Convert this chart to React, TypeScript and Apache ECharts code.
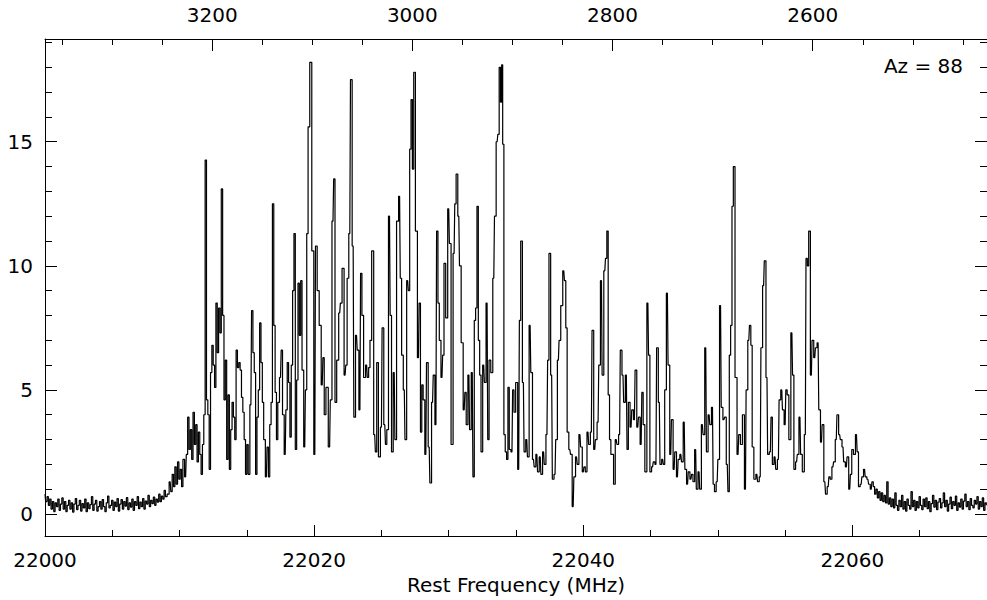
import React, { useEffect, useRef } from "react";
import * as echarts from "echarts";

// ---------- data ----------
// Left line-free wing: channels every 0.1 MHz starting at 22000 MHz
const leftWingStartMHz = 22000;
const wingStepMHz = 0.1;
const leftWing = [
  0.8, 0.5, 0.7, 0.35, 0.6, 0.2, 0.5, 0.1, 0.45, 0.3, 0.6, 0.15, 0.4, 0.65, 0.2, 0.5,
  0.1, 0.35, 0.55, 0.2, 0.45, 0.08, 0.4, 0.62, 0.18, 0.35, 0.55, 0.12, 0.42, 0.25,
  0.6, 0.1, 0.45, 0.22, 0.38, 0.7, 0.15, 0.4, 0.55, 0.12, 0.3, 0.5, 0.2, 0.58, 0.3,
  0.1, 0.45, 0.72, 0.25, 0.35, 0.55, 0.15, 0.48, 0.3, 0.62, 0.12, 0.4, 0.58, 0.2, 0.5,
  0.32, 0.66, 0.18, 0.45, 0.28, 0.6, 0.15, 0.5, 0.35, 0.7, 0.22, 0.48, 0.3, 0.62, 0.2,
  0.52, 0.4, 0.75, 0.3, 0.55, 0.42, 0.68, 0.35, 0.6, 0.48, 0.8, 0.5, 0.72, 0.6, 0.95, 0.7,
];

// Band of emission lines: frequency (MHz) and intensity
const coreFreq = [
  22009.15, 22009.3, 22009.4, 22009.5, 22009.6, 22009.7, 22009.8, 22009.9, 22010.0, 22010.1,
  22010.2, 22010.3, 22010.45, 22010.55, 22010.65, 22010.75, 22010.85, 22010.95, 22011.05, 22011.15,
  22011.25, 22011.35, 22011.45, 22011.55, 22011.65, 22011.75, 22011.85, 22011.95, 22012.05, 22012.15,
  22012.25, 22012.35, 22012.45, 22012.55, 22012.65, 22012.75, 22012.85, 22012.95, 22013.05, 22013.15,
  22013.25, 22013.35, 22013.45, 22013.55, 22013.65, 22013.75, 22013.85, 22013.95, 22014.05, 22014.15,
  22014.25, 22014.35, 22014.45, 22014.55, 22014.65, 22014.75, 22014.85, 22014.95, 22015.05, 22015.15,
  22015.3, 22015.4, 22015.5, 22015.6, 22015.7, 22015.8, 22015.9, 22016.0, 22016.1, 22016.2,
  22016.3, 22016.45, 22016.55, 22016.65, 22016.75, 22016.85, 22016.95, 22017.05, 22017.15, 22017.25,
  22017.35, 22017.5, 22017.6, 22017.7, 22017.85, 22017.95, 22018.05, 22018.15, 22018.25, 22018.35,
  22018.45, 22018.55, 22018.65, 22018.75, 22018.85, 22018.95, 22019.05, 22019.15, 22019.3, 22019.4,
  22019.5, 22019.6, 22019.75, 22019.9, 22020.05, 22020.15, 22020.3, 22020.45, 22020.6, 22020.7,
  22020.8, 22020.95, 22021.15, 22021.25, 22021.4, 22021.5, 22021.6, 22021.75, 22021.9, 22022.0,
  22022.15, 22022.3, 22022.4, 22022.5, 22022.65, 22022.75, 22022.9, 22023.0, 22023.15, 22023.25,
  22023.4, 22023.5, 22023.6, 22023.75, 22023.9, 22024.0, 22024.1, 22024.2, 22024.35, 22024.5,
  22024.6, 22024.7, 22024.85, 22025.0, 22025.1, 22025.25, 22025.35, 22025.45, 22025.6, 22025.7,
  22025.8, 22025.95, 22026.05, 22026.2, 22026.35, 22026.45, 22026.55, 22026.7, 22026.8, 22026.95,
  22027.05, 22027.15, 22027.25, 22027.35, 22027.45, 22027.6, 22027.75, 22027.85, 22027.95, 22028.05,
  22028.15, 22028.3, 22028.4, 22028.55, 22028.65, 22028.8, 22028.9, 22029.05, 22029.15, 22029.25,
  22029.35, 22029.5, 22029.6, 22029.7, 22029.85, 22030.0, 22030.1, 22030.25, 22030.4, 22030.5,
  22030.6, 22030.75, 22030.85, 22031.0, 22031.15, 22031.25, 22031.35, 22031.5, 22031.6, 22031.75,
  22031.85, 22031.95, 22032.05, 22032.15, 22032.25, 22032.35, 22032.45, 22032.6, 22032.7, 22032.85,
  22032.95, 22033.05, 22033.2, 22033.35, 22033.45, 22033.6, 22033.7, 22033.8, 22033.9, 22033.97,
  22034.05, 22034.15, 22034.25, 22034.35, 22034.45, 22034.55, 22034.7, 22034.8, 22034.9, 22035.05,
  22035.2, 22035.3, 22035.4, 22035.55, 22035.65, 22035.8, 22035.9, 22036.05, 22036.15, 22036.3,
  22036.4, 22036.55, 22036.65, 22036.8, 22036.9, 22037.05, 22037.15, 22037.3, 22037.4, 22037.5,
  22037.65, 22037.75, 22037.9, 22038.0, 22038.15, 22038.25, 22038.4, 22038.55, 22038.65, 22038.75,
  22038.85, 22039.0, 22039.1, 22039.25, 22039.35, 22039.5, 22039.6, 22039.75, 22039.85, 22040.0,
  22040.1, 22040.2, 22040.35, 22040.45, 22040.6, 22040.7, 22040.85, 22040.95, 22041.1, 22041.2,
  22041.35, 22041.45, 22041.6, 22041.7, 22041.8, 22041.9, 22042.0, 22042.1, 22042.2, 22042.3,
  22042.45, 22042.55, 22042.7, 22042.8, 22042.95, 22043.05, 22043.2, 22043.3, 22043.4, 22043.55,
  22043.65, 22043.8, 22043.9, 22044.05, 22044.15, 22044.3, 22044.4, 22044.5, 22044.65, 22044.8,
  22044.9, 22045.0, 22045.15, 22045.25, 22045.4, 22045.5, 22045.65, 22045.75, 22045.9, 22046.0,
  22046.1, 22046.25, 22046.35, 22046.5, 22046.6, 22046.75, 22046.85, 22047.0, 22047.1, 22047.25,
  22047.35, 22047.5, 22047.6, 22047.75, 22047.85, 22048.0, 22048.1, 22048.2, 22048.35, 22048.45,
  22048.6, 22048.7, 22048.85, 22048.95, 22049.1, 22049.2, 22049.35, 22049.45, 22049.6, 22049.7,
  22049.8, 22049.95, 22050.05, 22050.2, 22050.3, 22050.45, 22050.55, 22050.7, 22050.8, 22050.9,
  22051.0, 22051.1, 22051.2, 22051.35, 22051.5, 22051.6, 22051.75, 22051.9, 22052.05, 22052.15,
  22052.3, 22052.4, 22052.5, 22052.6, 22052.75, 22052.9, 22053.0, 22053.15, 22053.25, 22053.4,
  22053.5, 22053.65, 22053.75, 22053.9, 22054.0, 22054.1, 22054.25, 22054.35, 22054.5, 22054.6,
  22054.75, 22054.85, 22055.0, 22055.1, 22055.2, 22055.35, 22055.5, 22055.6, 22055.7, 22055.85,
  22055.95, 22056.1, 22056.2, 22056.35, 22056.5, 22056.6, 22056.7, 22056.8, 22056.95, 22057.05,
  22057.2, 22057.3, 22057.45, 22057.55, 22057.7, 22057.8, 22057.95, 22058.05, 22058.2, 22058.3,
  22058.4, 22058.55, 22058.65, 22058.8, 22058.9, 22059.05, 22059.15, 22059.3, 22059.4, 22059.55,
  22059.65, 22059.8, 22059.9, 22060.0, 22060.15, 22060.3, 22060.4, 22060.5, 22060.65, 22060.75,
  22060.9, 22061.0, 22061.15, 22061.25, 22061.4, 22061.5,
];
const coreInt = [
  0.8, 1.3, 0.9, 1.6, 1.1, 1.9, 1.2, 2.1, 1.4, 1.8,
  1.1, 2.2, 1.5, 2.4, 3.9, 2.6, 3.4, 2.2, 4.1, 2.8,
  3.6, 2.1, 3.3, 2.4, 1.6, 2.8, 4.0, 14.26, 4.6, 4.0,
  1.8, 5.7, 6.8, 6.0, 5.1, 8.5, 6.5, 8.3, 7.3, 13.1,
  8.0, 4.6, 6.2, 2.2, 4.8, 1.8, 3.4, 4.5, 3.9, 3.0,
  6.6, 5.9, 6.1, 5.8, 4.7, 4.1, 3.0, 1.6, 2.8, 1.6,
  4.4, 8.2, 6.5, 5.7, 1.6, 3.9, 5.0, 7.7, 6.1, 4.5,
  3.0, 1.5, 2.7, 1.5, 3.6, 4.5, 12.5, 7.6, 4.9, 3.0,
  4.5, 5.5, 6.6, 4.0, 2.4, 4.2, 6.1, 5.3, 3.1, 6.0,
  9.0, 11.3, 2.6, 5.4, 9.3, 7.2, 9.4, 5.8, 2.7, 5.0,
  11.3, 15.6, 18.2, 10.6, 2.4, 10.8, 9.0, 7.6, 5.2, 6.3,
  4.0, 5.1, 2.7, 4.6, 11.8, 13.5, 4.5, 6.2, 8.1, 8.5,
  9.9, 5.6, 6.0, 9.5, 11.3, 17.5, 10.8, 3.9, 7.2, 6.6,
  4.2, 9.7, 8.0, 5.5, 6.0, 5.5, 5.9, 7.0, 10.6, 3.2,
  2.5, 6.1, 2.3, 3.5, 7.5, 3.6, 2.8, 3.4, 12.0, 8.0,
  2.5, 5.7, 3.0, 11.8, 12.8, 9.5, 6.4, 5.0, 3.0, 9.4,
  9.0, 14.7, 16.7, 13.9, 17.8, 11.4, 6.3, 8.5, 3.3, 5.2,
  4.6, 2.4, 6.1, 2.7, 1.25, 4.5, 5.6, 3.6, 11.4, 8.5,
  7.0, 5.5, 6.4, 10.1, 7.9, 12.3, 10.9, 2.8, 10.5, 12.5,
  13.7, 12.0, 10.0, 6.9, 4.2, 4.9, 3.6, 5.6, 3.4, 5.7,
  1.5, 7.8, 8.3, 12.4, 7.0, 5.6, 2.5, 6.0, 5.3, 8.5,
  3.0, 6.2, 5.7, 9.5, 12.0, 15.0, 15.3, 18.0, 16.6, 18.1,
  14.9, 3.2, 2.5, 2.2, 5.1, 2.6, 2.5, 5.0, 4.1, 5.3,
  1.8, 7.8, 11.0, 5.3, 2.5, 3.0, 2.3, 7.6, 5.7, 2.2,
  1.9, 2.4, 1.7, 2.3, 1.6, 2.5, 2.0, 3.2, 6.2, 10.5,
  5.6, 1.4, 1.6, 3.0, 6.2, 7.0, 8.4, 9.8, 9.4, 7.5,
  3.3, 2.6, 2.4, 0.3, 1.5, 2.3, 2.0, 3.2, 2.7, 1.7,
  1.9, 1.7, 3.3, 2.8, 3.3, 7.4, 2.6, 3.0, 3.7, 6.0,
  9.4, 5.6, 9.8, 10.3, 11.4, 4.8, 3.0, 2.4, 2.4, 1.2,
  3.0, 2.8, 3.2, 6.6, 5.6, 4.5, 5.6, 2.6, 4.5, 3.5,
  4.2, 3.8, 5.8, 3.5, 3.9, 2.8, 4.9, 3.6, 1.7, 8.5,
  6.4, 1.7, 1.9, 2.1, 2.0, 6.7, 4.5, 2.0, 2.2, 2.0,
  5.0, 8.9, 6.0, 2.4, 3.8, 1.8, 2.5, 1.5, 2.2, 2.4,
  2.1, 3.7, 1.8, 1.2, 1.7, 1.4, 1.6, 1.3, 2.6, 1.0,
  1.7, 1.0, 3.6, 3.2, 6.7, 2.5, 4.0, 3.6, 4.3, 1.2,
  0.9, 1.3, 2.2, 8.4, 4.3, 3.8, 3.9, 2.0, 0.9, 6.4,
  7.6, 12.4, 14.0, 5.5, 2.4, 3.2, 2.8, 4.0, 1.0, 5.0,
  7.0, 7.6, 6.8, 2.7, 1.4, 1.6, 1.3, 1.5, 6.7, 9.2,
  10.2, 5.5, 2.4, 2.5, 3.9, 2.0, 2.3, 1.8, 2.2, 4.6,
  5.0, 4.2, 3.6, 5.0, 4.8, 3.0, 7.3, 5.6, 1.8, 2.1,
  2.4, 3.9, 2.4, 1.7, 3.2, 10.3, 10.0, 11.4, 5.6, 7.0,
  6.3, 6.7, 6.9, 4.2, 2.9, 3.6, 1.3, 0.8, 1.1, 1.5,
  1.4, 1.9, 2.1, 3.0, 4.0, 3.2, 3.0, 2.7, 2.1, 1.9,
  2.3, 1.0, 1.6, 2.6, 2.4, 3.2, 2.5, 1.1, 1.2, 1.5,
  1.8, 1.5, 1.4, 1.2, 1.0, 1.3,
];

// Right line-free wing: channels every 0.1 MHz starting at 22061.6 MHz
const rightWingStartMHz = 22061.6;
const rightWing = [
  1.1, 0.8, 1.0, 0.65, 0.9, 0.55, 0.85, 0.5, 0.75, 0.45, 1.3, 0.4, 0.65, 0.3, 0.6, 0.25,
  0.85, 0.35, 0.15, 0.55, 0.3, 0.75, 0.2, 0.5, 0.12, 0.6, 0.35, 0.2, 0.9, 0.3,
  0.55, 0.15, 0.5, 0.25, 0.7, 0.35, 0.18, 0.6, 0.3, 0.65, 0.22, 0.5, 0.1, 0.42, 0.75,
  0.28, 0.55, 0.18, 0.48, 0.62, 0.25, 0.45, 0.85, 0.3, 0.55, 0.12, 0.4, 0.68, 0.22, 0.5,
  0.35, 0.72, 0.15, 0.45, 0.28, 0.6, 0.2, 0.52, 0.8, 0.3, 0.5, 0.18, 0.62, 0.35, 0.25,
  0.55, 0.4, 0.7, 0.2, 0.5, 0.3, 0.65, 0.15, 0.45, 0.35,
];

// Axis ticks
const freqMajorTicks = [22000, 22020, 22040, 22060];
const freqMinorTicks = [22005, 22010, 22015, 22025, 22030, 22035, 22045, 22050, 22055, 22065];
const velMajorTicks = [3200, 3000, 2800, 2600];
const velMinorTicks = [3350, 3300, 3250, 3150, 3100, 3050, 2950, 2900, 2850, 2750, 2700, 2650, 2550, 2500, 2450];
const intMajorTicks = [0, 5, 10, 15];
const intMinorTicks = [1, 2, 3, 4, 6, 7, 8, 9, 11, 12, 13, 14, 16, 17, 18, 19];

const xTitle = "Rest Frequency (MHz)";
const annotation = "Az = 88";

// axis ranges
const freqMin = 22000;
const freqMax = 22070;
const velAtLeft = 3367;
const velAtRight = 2425.9;
const intMin = -0.886;
const intMax = 19.14;

const FONT = "DejaVu Sans";
const INK = "#000";

function buildSpectrum(): [number, number][] {
  const pts: [number, number][] = [];
  leftWing.forEach((v, i) => pts.push([+(leftWingStartMHz + i * wingStepMHz).toFixed(3), v]));
  coreFreq.forEach((f, i) => pts.push([f, coreInt[i]]));
  rightWing.forEach((v, i) => pts.push([+(rightWingStartMHz + i * wingStepMHz).toFixed(3), v]));
  return pts;
}

function tickAxis(opts: any, ticks: number[], len: number, labels: boolean, showLine: boolean, margin = 12) {
  return {
    type: "value",
    gridIndex: 0,
    ...opts,
    axisLine: { show: showLine, onZero: false, lineStyle: { color: INK, width: 1 } },
    axisTick: { show: true, inside: true, length: len, customValues: ticks, lineStyle: { color: INK, width: 1 } },
    axisLabel: labels
      ? {
          show: true,
          customValues: ticks,
          color: INK,
          fontSize: 20,
          fontFamily: FONT,
          margin,
          formatter: (v: number) => String(v),
        }
      : { show: false },
    splitLine: { show: false },
    minorTick: { show: false },
    minorSplitLine: { show: false },
  };
}

export default function App() {
  const ref = useRef<HTMLDivElement>(null);

  useEffect(() => {
    if (!ref.current) return;
    const chart = echarts.init(ref.current, undefined, { renderer: "svg" });
    const xBottom = { position: "bottom", min: freqMin, max: freqMax };
    const xTop = { position: "top", inverse: true, min: velAtRight, max: velAtLeft };
    const yLeft = { position: "left", min: intMin, max: intMax };
    const yRight = { position: "right", min: intMin, max: intMax };

    const option: any = {
      animation: false,
      backgroundColor: "#fff",
      grid: { left: 45, top: 39, right: -7, bottom: 64, containLabel: false },
      xAxis: [
        {
          ...tickAxis(xBottom, freqMajorTicks, 11, true, true, 14),
          name: xTitle,
          nameLocation: "middle",
          nameGap: 35,
          nameTextStyle: { color: INK, fontSize: 20, fontFamily: FONT },
        },
        tickAxis(xBottom, freqMinorTicks, 6, false, false),
        tickAxis(xTop, velMajorTicks, 12, true, true, 14),
        tickAxis(xTop, velMinorTicks, 6, false, false),
      ],
      yAxis: [
        tickAxis(yLeft, intMajorTicks, 12, true, true),
        tickAxis(yLeft, intMinorTicks, 7, false, false),
        tickAxis(yRight, intMajorTicks, 12, false, true),
        tickAxis(yRight, intMinorTicks, 7, false, false),
      ],
      series: [
        {
          type: "line",
          xAxisIndex: 0,
          yAxisIndex: 0,
          data: buildSpectrum(),
          step: "middle",
          symbol: "none",
          showSymbol: false,
          silent: true,
          clip: true,
          lineStyle: { color: INK, width: 1.2 },
        },
      ],
      graphic: [
        {
          type: "text",
          right: 24,
          top: 56,
          style: { text: annotation, fill: INK, fontSize: 20, fontFamily: FONT },
        },
      ],
    };
    chart.setOption(option);
    return () => chart.dispose();
  }, []);

  return (
    <div
      ref={ref}
      style={{ position: "absolute", left: 0, top: 0, width: 987, height: 600, background: "#fff" }}
    />
  );
}
